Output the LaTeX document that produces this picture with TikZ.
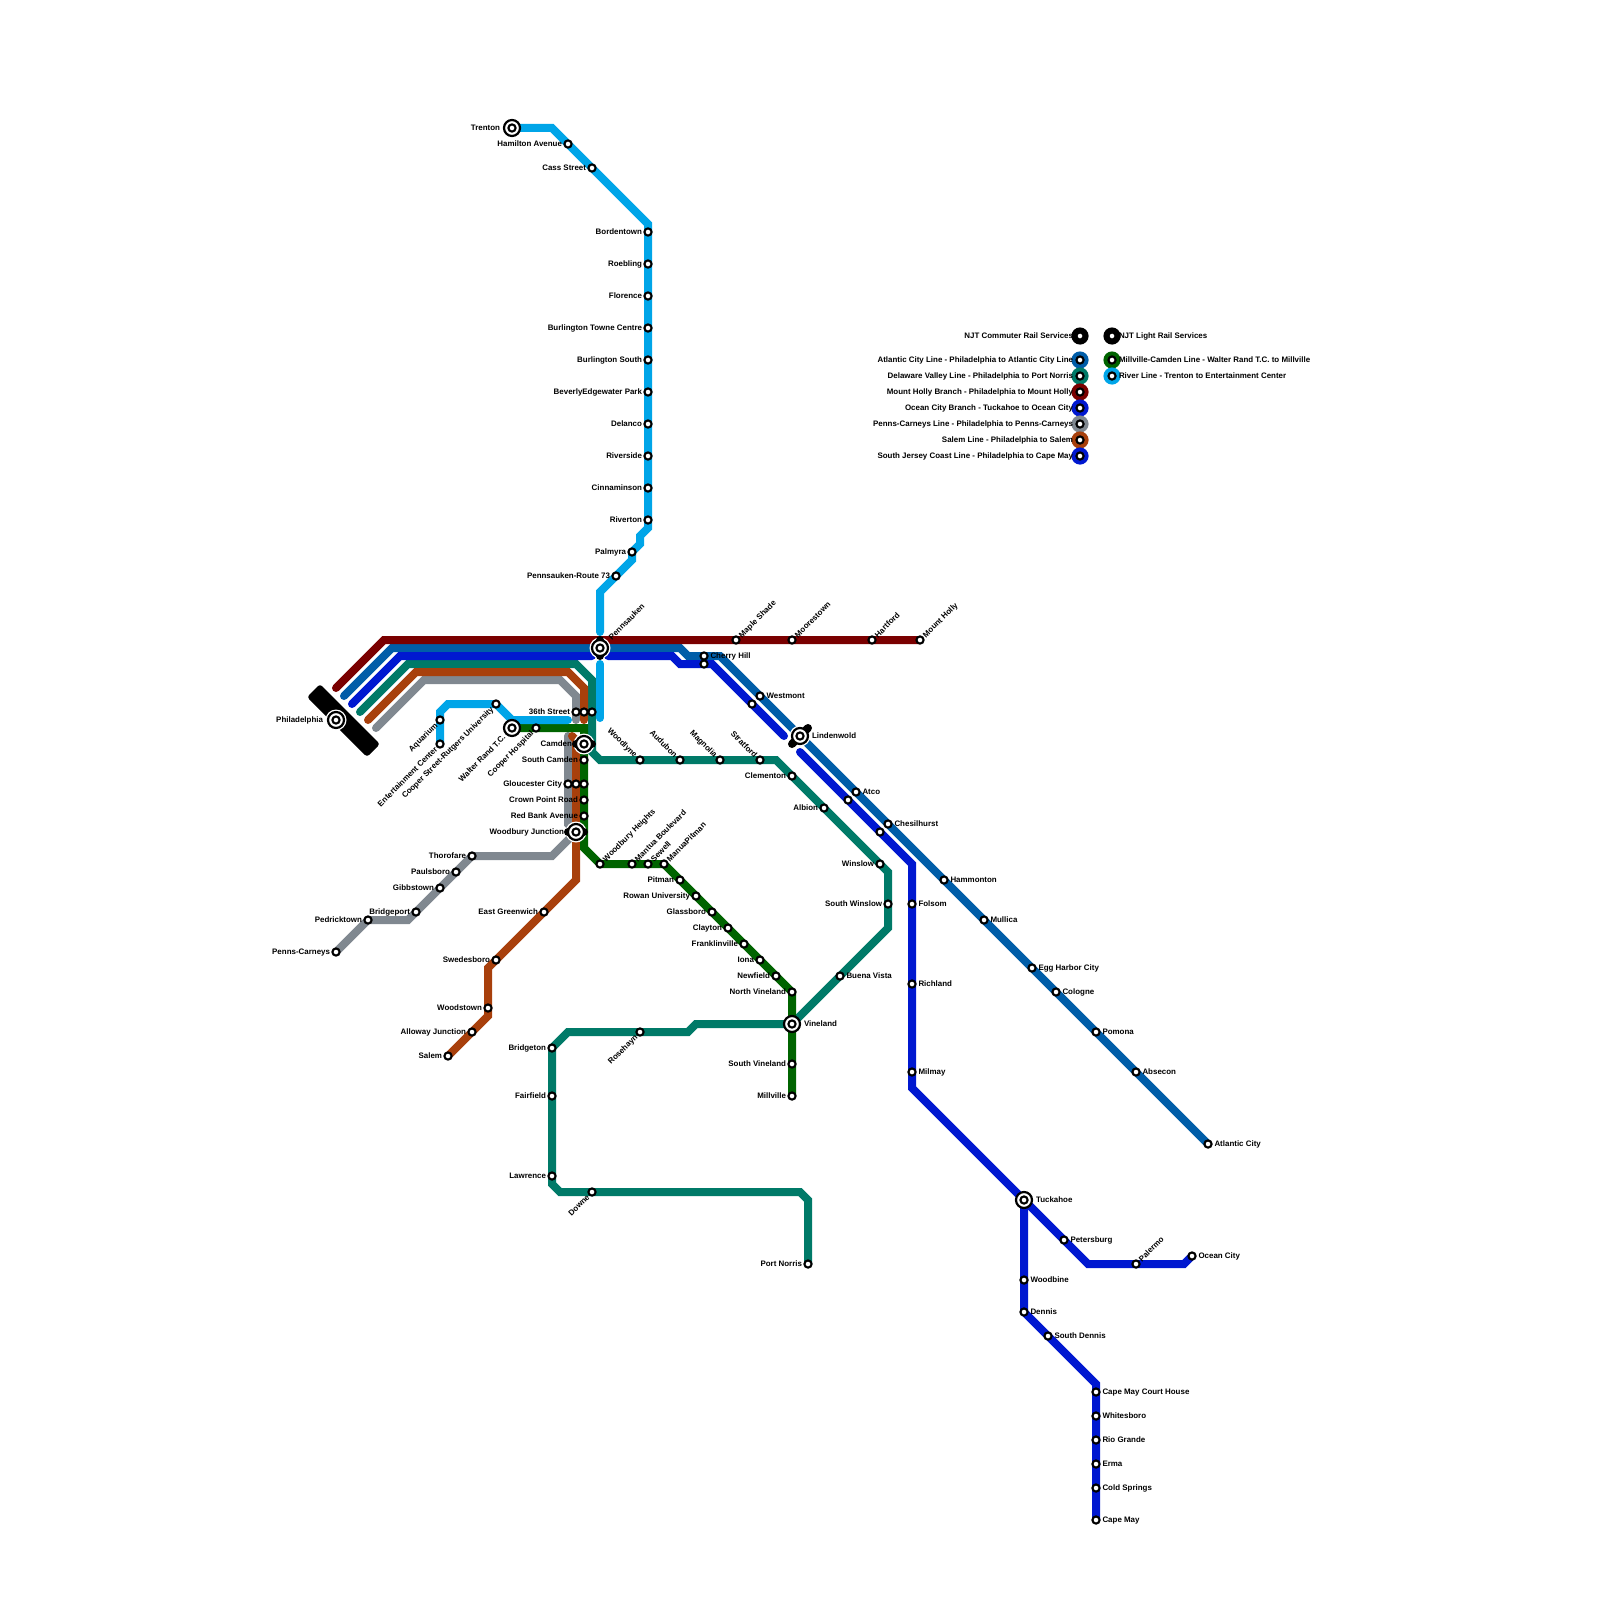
\documentclass[tikz,border=0pt]{standalone}
\usepackage{fontspec}
\setmainfont{Liberation Sans}
\definecolor{cmaroon}{HTML}{7A0000}
\definecolor{cblue}{HTML}{005DA8}
\definecolor{cdeep}{HTML}{0018D0}
\definecolor{cteal}{HTML}{007A68}
\definecolor{cbrown}{HTML}{A8400C}
\definecolor{cgray}{HTML}{808890}
\definecolor{cgreen}{HTML}{006400}
\definecolor{clight}{HTML}{00A5E8}
\pgfdeclarelayer{lines}
\pgfsetlayers{lines,main}
\tikzset{
  rail/.style={line width=4pt,line cap=round,line join=miter,miter limit=10},
  stnode/.style={circle,draw=black,fill=white,line width=1.05pt,minimum size=3.6pt,inner sep=0pt,outer sep=0pt},
  hubring/.style={circle,draw=black,fill=white,line width=1.1pt,minimum size=8pt,inner sep=0pt,outer sep=0pt},
  halo/.style={circle,fill=white,minimum size=10.5pt,inner sep=0pt,outer sep=0pt},
  legdot/.style={circle,minimum size=8.6pt,inner sep=0pt,outer sep=0pt},
  lab/.style={font=\fontsize{3.97}{5}\selectfont\bfseries,text=black,inner sep=0pt,outer sep=0pt,text height=2.9pt,text depth=0pt},
  hublink/.style={line width=4pt,line cap=round,black}
}
\newcommand\st[3]{\node[stnode] (#1) at (#2,#3) {};}
\newcommand\stL[5][3pt]{\st{#2}{#3}{#4}\node[lab,anchor=east] (#2-t) at ([xshift=-#1]#2.center) {#5};}
\newcommand\stR[5][3.25pt]{\st{#2}{#3}{#4}\node[lab,anchor=west] (#2-t) at ([xshift=#1]#2.center) {#5};}
\newcommand\stUR[5][2pt]{\st{#2}{#3}{#4}\node[lab,anchor=west,rotate=45] (#2-t) at ([xshift=#1,yshift=#1]#2.center) {#5};}
\newcommand\stLL[5][2pt]{\st{#2}{#3}{#4}\node[lab,anchor=east,rotate=45] (#2-t) at ([xshift=-#1,yshift=-#1]#2.center) {#5};}
\newcommand\stUL[5][2pt]{\st{#2}{#3}{#4}\node[lab,anchor=east,rotate=-45] (#2-t) at ([xshift=-#1,yshift=#1]#2.center) {#5};}
\newcommand\hubat[3]{\node[hubring] (#1-hub) at (#2,#3) {};}
\newcommand\haloat[3]{\node[halo] (#1-halo) at (#2,#3) {};}
\newcommand\legend[4]{\node[legdot,fill=#2] (#1-leg) at (#3,#4) {};}
\begin{document}
\begin{tikzpicture}[x=0.5pt,y=-0.5pt]
\useasboundingbox (0,0) rectangle (1600,1600);
% bend points
\foreach \n/\x/\y in {
 r1/552/128,r2/648/224,r3/648/528,r4/640/536,r5/640/544,r6/632/560,r7/600/592,r8/600/632,r9/600/664,r10/600/718,
 r11/440/712,r12/448/704,r13/512/720,r14/568/720,
 m0/336/688,m1/384/640,
 a0/344/696,a1/392/648,a2/680/648,a3/688/656,a4/720/656,
 d0/352/704,d1/400/656,d2/592/656,d3/608/656,d4/672/656,d5/680/664,d6/712/664,d7/784/736,d8/800/752,d9/912/864,d10/912/1088,d11/1024/1312,d12/1096/1384,
 o1/1088/1264,o2/1184/1264,
 t0/360/712,t1/408/664,t2/576/664,t3/592/680,t4/592/752,t5/600/760,t6/776/760,t7/888/872,t8/888/928,t9/696/1024,t10/688/1032,t11/568/1032,t12/552/1184,t13/560/1192,t14/800/1192,t15/808/1200,
 b0/368/720,b1/416/672,b2/568/672,b3/584/688,b4/584/720,b5/572/736,b6/576/740,b7/576/880,b8/488/968,b9/488/1016,
 g0/376/728,g1/424/680,g2/560/680,g3/576/696,g4/576/720,g5/568/736,g6/568/824,g7/552/856,g8/408/920,
 e1/584/728,e2/584/848,
 pa/600/640,pb/600/656,ca/576/744,cb/592/744,wa/568/832,wb/584/832,la/808/728,lb/792/744}
 {\coordinate (\n) at (\x,\y);}
% legend discs
\legend{lnjt}{black}{1080}{336}\legend{lac}{cblue}{1080}{360}\legend{ldv}{cteal}{1080}{376}
\legend{lmh}{cmaroon}{1080}{392}\legend{loc}{cdeep}{1080}{408}\legend{lpc}{cgray}{1080}{424}
\legend{lsa}{cbrown}{1080}{440}\legend{lsj}{cdeep}{1080}{456}
\legend{rnjt}{black}{1112}{336}\legend{rmc}{cgreen}{1112}{360}\legend{rri}{clight}{1112}{376}
% Philadelphia bar and halos
\fill[black,rounded corners=1.5pt] (320,684) -- (307,697) -- (367,757) -- (380,744) -- cycle;
\haloat{phil}{336}{720}\haloat{penn}{600}{648}\haloat{camd}{584}{744}\haloat{wood}{576}{832}\haloat{lind}{800}{736}
\draw[hublink] (pa) -- (pb);
\draw[hublink] (ca) -- (cb);
\draw[hublink] (wa) -- (wb);
\draw[hublink] (la) -- (lb);
\hubat{trenton}{512}{128}\hubat{philadelphia}{336}{720}\hubat{walter}{512}{728}\hubat{pennsauken}{600}{648}
\hubat{camden}{584}{744}\hubat{woodjct}{576}{832}\hubat{lindenwold}{800}{736}\hubat{vineland}{792}{1024}\hubat{tuckahoe}{1024}{1200}
% River Line
\stL[6pt]{trenton}{512}{128}{Trenton}
\stL{hamilton}{568}{144}{Hamilton Avenue}
\stL{cass}{592}{168}{Cass Street}
\stL{bordentown}{648}{232}{Bordentown}
\stL{roebling}{648}{264}{Roebling}
\stL{florence}{648}{296}{Florence}
\stL{btc}{648}{328}{Burlington Towne Centre}
\stL{bsouth}{648}{360}{Burlington South}
\stL{beverly}{648}{392}{BeverlyEdgewater Park}
\stL{delanco}{648}{424}{Delanco}
\stL{riverside}{648}{456}{Riverside}
\stL{cinnaminson}{648}{488}{Cinnaminson}
\stL{riverton}{648}{520}{Riverton}
\stL{palmyra}{632}{552}{Palmyra}
\stL{pr73}{616}{576}{Pennsauken-Route 73}
\stUR[5pt]{pennsauken}{600}{648}{Pennsauken}
\st{st36b}{584}{712}\st{st36c}{592}{712}
\stL{st36}{576}{712}{36th Street}
\stLL[4pt]{walter}{512}{728}{Walter Rand T.C.}
\stLL{cooperh}{536}{728}{Cooper Hospital}
\stLL{cooperst}{496}{704}{Cooper Street-Rutgers University}
\stLL{aquarium}{440}{720}{Aquarium}
\stLL{entertain}{440}{744}{Entertainment Center}
% Mount Holly
\stUR{maple}{736}{640}{Maple Shade}
\stUR{moorestown}{792}{640}{Moorestown}
\stUR{hartford}{872}{640}{Hartford}
\stUR{mtholly}{920}{640}{Mount Holly}
% Atlantic City
\stR{cherry}{704}{656}{Cherry Hill}
\st{cherryb}{704}{664}
\stR{westmont}{760}{696}{Westmont}
\st{westb}{752}{704}
\stR[6pt]{lindenwold}{800}{736}{Lindenwold}
\stR{atco}{856}{792}{Atco}
\st{atcob}{848}{800}
\stR{chesilhurst}{888}{824}{Chesilhurst}
\st{chesb}{880}{832}
\stR{hammonton}{944}{880}{Hammonton}
\stR{mullica}{984}{920}{Mullica}
\stR{egg}{1032}{968}{Egg Harbor City}
\stR{cologne}{1056}{992}{Cologne}
\stR{pomona}{1096}{1032}{Pomona}
\stR{absecon}{1136}{1072}{Absecon}
\stR{atlantic}{1208}{1144}{Atlantic City}
% South Jersey Coast
\stR{folsom}{912}{904}{Folsom}
\stR{richland}{912}{984}{Richland}
\stR{milmay}{912}{1072}{Milmay}
\stR[6pt]{tuckahoe}{1024}{1200}{Tuckahoe}
\stR{woodbine}{1024}{1280}{Woodbine}
\stR{dennis}{1024}{1312}{Dennis}
\stR{sdennis}{1048}{1336}{South Dennis}
\stR{cmch}{1096}{1392}{Cape May Court House}
\stR{whitesboro}{1096}{1416}{Whitesboro}
\stR{riogrande}{1096}{1440}{Rio Grande}
\stR{erma}{1096}{1464}{Erma}
\stR{coldsprings}{1096}{1488}{Cold Springs}
\stR{capemay}{1096}{1520}{Cape May}
\stR{petersburg}{1064}{1240}{Petersburg}
\stUR{palermo}{1136}{1264}{Palermo}
\stR{oceancity}{1192}{1256}{Ocean City}
% Delaware Valley
\stL[6pt]{camden}{584}{744}{Camden}
\stUL{woodlyne}{640}{760}{Woodlyne}
\stUL{audubon}{680}{760}{Audubon}
\stUL{magnolia}{720}{760}{Magnolia}
\stUL{stratford}{760}{760}{Stratford}
\stL{clementon}{792}{776}{Clementon}
\stL{albion}{824}{808}{Albion}
\stL{winslow}{880}{864}{Winslow}
\stL{swinslow}{888}{904}{South Winslow}
\stR{buena}{840}{976}{Buena Vista}
\stR[6pt]{vineland}{792}{1024}{Vineland}
\stLL{rosehayn}{640}{1032}{Rosehayn}
\stL{bridgeton}{552}{1048}{Bridgeton}
\stL{fairfield}{552}{1096}{Fairfield}
\stL{lawrence}{552}{1176}{Lawrence}
\stLL{downe}{592}{1192}{Downe}
\stL{portnorris}{808}{1264}{Port Norris}
% Millville
\stL{scamden}{584}{760}{South Camden}
\st{gloub}{576}{784}\st{glouc}{584}{784}
\stL{gloucester}{568}{784}{Gloucester City}
\stL{crown}{584}{800}{Crown Point Road}
\stL{redbank}{584}{816}{Red Bank Avenue}
\stL[6pt]{woodjct}{576}{832}{Woodbury Junction}
\stUR{woodh}{600}{864}{Woodbury Heights}
\stUR{mantua}{632}{864}{Mantua Boulevard}
\stUR{sewell}{648}{864}{Sewell}
\stUR{manua}{664}{864}{ManuaPitman}
\stL{pitman}{680}{880}{Pitman}
\stL{rowan}{696}{896}{Rowan University}
\stL{glassboro}{712}{912}{Glassboro}
\stL{clayton}{728}{928}{Clayton}
\stL{franklin}{744}{944}{Franklinville}
\stL{iona}{760}{960}{Iona}
\stL{newfield}{776}{976}{Newfield}
\stL{nvineland}{792}{992}{North Vineland}
\stL{svineland}{792}{1064}{South Vineland}
\stL{millville}{792}{1096}{Millville}
% Penns-Carneys
\stL{thorofare}{472}{856}{Thorofare}
\stL{paulsboro}{456}{872}{Paulsboro}
\stL{gibbstown}{440}{888}{Gibbstown}
\stL{bridgeport}{416}{912}{Bridgeport}
\stL{pedricktown}{368}{920}{Pedricktown}
\stL{penns}{336}{952}{Penns-Carneys}
% Salem
\stL{egreenwich}{544}{912}{East Greenwich}
\stL{swedesboro}{496}{960}{Swedesboro}
\stL{woodstown}{488}{1008}{Woodstown}
\stL{alloway}{472}{1032}{Alloway Junction}
\stL{salem}{448}{1056}{Salem}
% Philadelphia
\stL[6.5pt]{philadelphia}{336}{720}{Philadelphia}
% legend entries
\stL[3.5pt]{lg1}{1080}{336}{NJT Commuter Rail Services}
\stL[3.5pt]{lg2}{1080}{360}{Atlantic City Line - Philadelphia to Atlantic City Line}
\stL[3.5pt]{lg3}{1080}{376}{Delaware Valley Line - Philadelphia to Port Norris}
\stL[3.5pt]{lg4}{1080}{392}{Mount Holly Branch - Philadelphia to Mount Holly}
\stL[3.5pt]{lg5}{1080}{408}{Ocean City Branch - Tuckahoe to Ocean City}
\stL[3.5pt]{lg6}{1080}{424}{Penns-Carneys Line - Philadelphia to Penns-Carneys}
\stL[3.5pt]{lg7}{1080}{440}{Salem Line - Philadelphia to Salem}
\stL[3.5pt]{lg8}{1080}{456}{South Jersey Coast Line - Philadelphia to Cape May}
\stR[3.5pt]{lg9}{1112}{336}{NJT Light Rail Services}
\stR[3.5pt]{lg10}{1112}{360}{Millville-Camden Line - Walter Rand T.C. to Millville}
\stR[3.5pt]{lg11}{1112}{376}{River Line - Trenton to Entertainment Center}
% lines
\begin{pgfonlayer}{lines}
\draw[rail,cblue] (a0) -- (a1) -- (a2) -- (a3) -- (a4) -- (atlantic.center);
\draw[rail,cteal] (t0) -- (t1) -- (t2) -- (t3) -- (t4) -- (t5) -- (t6) -- (t7) -- (t8) -- (vineland.center) -- (t9) -- (t10) -- (t11) -- (bridgeton.center) -- (t12) -- (t13) -- (t14) -- (t15) -- (portnorris.center);
\draw[rail,cmaroon] (m0) -- (m1) -- (mtholly.center);
\draw[rail,cdeep] (tuckahoe.center) -- (o1) -- (o2) -- (oceancity.center);
\draw[rail,cgray] (g0) -- (g1) -- (g2) -- (g3) -- (g4);
\draw[rail,cgray] (g5) -- (g6) -- (woodjct.center) -- (g7) -- (thorofare.center) -- (bridgeport.center) -- (g8) -- (pedricktown.center) -- (penns.center);
\draw[rail,cbrown] (b0) -- (b1) -- (b2) -- (b3) -- (b4);
\draw[rail,cbrown] (b5) -- (b6) -- (b7) -- (swedesboro.center) -- (b8) -- (b9) -- (salem.center);
\draw[rail,cdeep] (d0) -- (d1) -- (d2);
\draw[rail,cdeep] (d3) -- (d4) -- (d5) -- (d6) -- (d7);
\draw[rail,cdeep] (d8) -- (d9) -- (d10) -- (tuckahoe.center) -- (d11) -- (d12) -- (capemay.center);
\draw[rail,cgreen] (walter.center) -- (e1) -- (e2) -- (woodh.center) -- (manua.center) -- (nvineland.center) -- (millville.center);
\draw[rail,clight] (trenton.center) -- (r1) -- (r2) -- (r3) -- (r4) -- (r5) -- (palmyra.center) -- (r6) -- (r7) -- (r8);
\draw[rail,clight] (r9) -- (r10);
\draw[rail,clight] (entertain.center) -- (r11) -- (r12) -- (cooperst.center) -- (r13) -- (r14);
\end{pgfonlayer}
\end{tikzpicture}
\end{document}
